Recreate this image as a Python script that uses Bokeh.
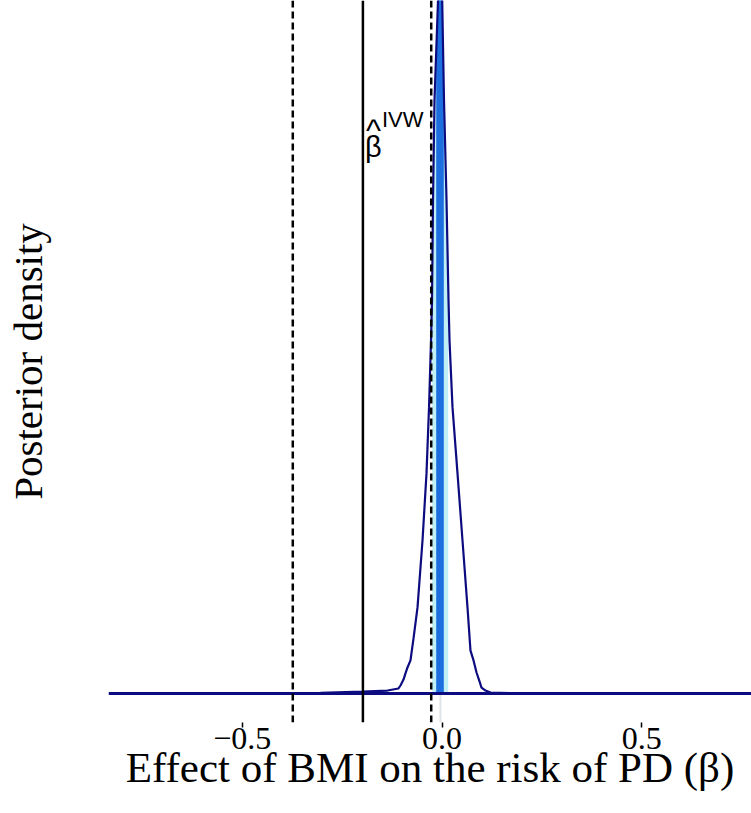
import numpy as np
from bokeh.plotting import figure
from bokeh.models import Range1d, Span, Label, FixedTicker, CustomJSTickFormatter
from bokeh.embed import file_html
from bokeh.resources import INLINE

# ---- data ----
beta = [-0.4793, -0.3742, -0.3041, -0.1990, -0.1364, -0.1089, -0.1039, -0.0964,
        -0.0914, -0.0864, -0.0789, -0.0713, -0.0613, -0.0488, -0.0388, -0.0325,
        -0.0275, -0.0250, -0.0225, -0.0188, -0.0100, -0.0050, 0.0005, 0.0050,
        0.0113, 0.0163, 0.0188, 0.0263, 0.0388, 0.0513, 0.0638, 0.0713,
        0.0789, 0.0864, 0.0939, 0.0989, 0.1089, 0.1214, 0.1715, 0.3091, 0.3470]
density = [0.0, 0.015, 0.03, 0.08, 0.13, 0.22, 0.35, 0.61,
           0.88, 1.14, 1.45, 2.41, 3.77, 6.70, 9.64, 12.53,
           15.46, 17.22, 21.60, 25.98, 30.35, 32.0, 30.35, 25.98,
           21.60, 17.22, 15.46, 12.53, 9.64, 6.70, 3.77, 1.88,
           1.45, 0.92, 0.53, 0.26, 0.13, 0.04, 0.02, 0.01, 0.0]
ivw_estimate = -0.198
ivw_ci = [-0.3735, -0.027]
posterior_median = -0.004
interval_outer = [-0.0245, 0.0155]
interval_inner = [-0.0145, 0.0045]
x_ticks = [-0.5, 0.0, 0.5]

NAVY = "#0c0c80"
BLUE = "#1d6fe0"
CYAN = "#bff0f6"
SERIF = "Liberation Serif"
SANS = "Liberation Sans"

p = figure(frame_width=643, frame_height=722, output_backend="svg",
           toolbar_location=None, x_range=Range1d(-0.8348, 0.7747),
           y_range=Range1d(-1.270, 30.35), min_border_left=108,
           min_border_right=0, min_border_top=0, min_border_bottom=0)
p.outline_line_color = None
p.xgrid.visible = False
p.ygrid.visible = False

bx = np.array(beta)
by = np.array(density)


def band(lo, hi):
    inside = (bx > lo) & (bx < hi)
    xs = np.concatenate([[lo], bx[inside], [hi]])
    ys = np.concatenate([[np.interp(lo, bx, by)], by[inside], [np.interp(hi, bx, by)]])
    return xs, ys

p.add_layout(Span(location=posterior_median, dimension="height",
                  line_color="#dde5ea", line_width=2, level="underlay"))

xo, yo = band(*interval_outer)
p.varea(x=xo, y1=0, y2=yo, fill_color=CYAN)
xi, yi = band(*interval_inner)
p.varea(x=xi, y1=0, y2=yi, fill_color=BLUE)

p.line(beta, density, line_color=NAVY, line_width=2.2)

p.add_layout(Span(location=0, dimension="width", line_color=NAVY, line_width=3))
p.add_layout(Span(location=ivw_estimate, dimension="height",
                  line_color="black", line_width=2.5))
for c in ivw_ci:
    p.add_layout(Span(location=c, dimension="height", line_color="black",
                      line_width=2.5, line_dash="7 4"))

# beta-hat IVW label
p.add_layout(Label(x=ivw_estimate, y=24.69, x_offset=3, text="^",
                   text_font=SANS, text_font_size="32px", text_color="black",
                   text_baseline="alphabetic"))
p.add_layout(Label(x=ivw_estimate, y=23.92, x_offset=2, text="β",
                   text_font=SANS, text_font_size="29px", text_color="black",
                   text_baseline="alphabetic"))
p.add_layout(Label(x=ivw_estimate, y=25.14, x_offset=19, text="IVW",
                   text_font=SANS, text_font_size="22px", text_color="black",
                   text_baseline="alphabetic"))

# x axis
xa = p.xaxis[0]
xa.ticker = FixedTicker(ticks=x_ticks)
xa.formatter = CustomJSTickFormatter(code="return tick.toFixed(1).replace('-', '\u2212');")
xa.axis_line_color = None
xa.major_tick_out = 5
xa.major_tick_in = 0
xa.major_tick_line_width = 1.5
xa.minor_tick_line_color = None
xa.major_label_standoff = 0
xa.major_label_text_font = SERIF
xa.major_label_text_font_size = "32px"
xa.major_label_text_color = "black"
xa.axis_label = "Effect of BMI on the risk of PD (β)"
xa.axis_label_text_font = SERIF
xa.axis_label_text_font_size = "43px"
xa.axis_label_text_font_style = "normal"
xa.axis_label_text_color = "black"
xa.axis_label_standoff = -8

# y axis
ya = p.yaxis[0]
ya.ticker = FixedTicker(ticks=[])
ya.axis_line_color = None
ya.major_tick_out = 0
ya.major_tick_in = 0
ya.minor_tick_line_color = None
ya.major_label_standoff = 0
ya.axis_label = "Posterior density"
ya.axis_label_text_font = SERIF
ya.axis_label_text_font_size = "41px"
ya.axis_label_text_font_style = "normal"
ya.axis_label_text_color = "black"
ya.axis_label_standoff = 58

open("out.html", "w").write(file_html(p, INLINE))
